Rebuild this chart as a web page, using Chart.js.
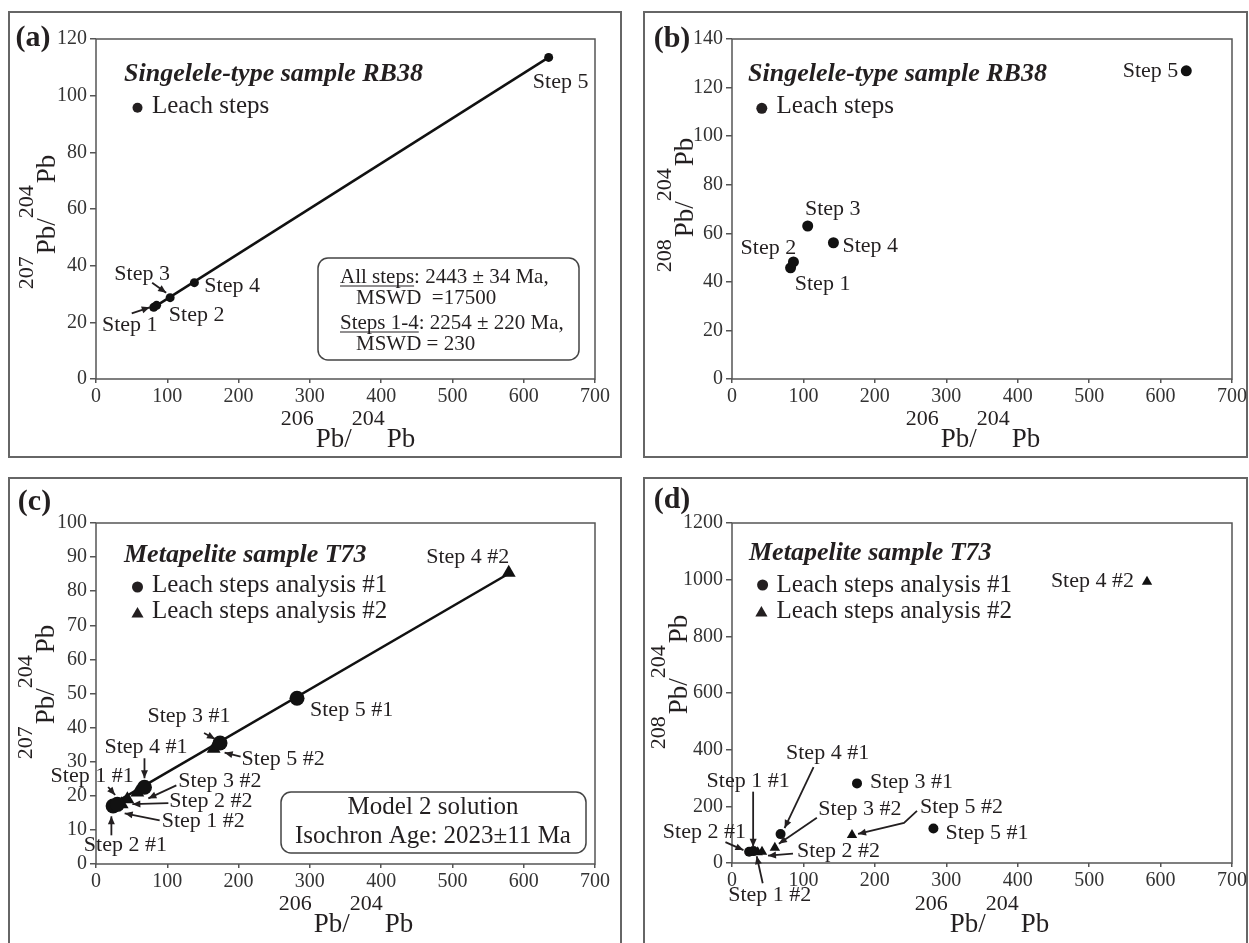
<!DOCTYPE html>
<html>
<head>
<meta charset="utf-8">
<script src="https://cdn.jsdelivr.net/npm/chart.js@4.4.0/dist/chart.umd.min.js"></script>
<style>
  html, body { margin: 0; padding: 0; background: #fff; overflow: hidden; }
  body { width: 1249px; height: 943px; position: relative; }
  .panel { position: absolute; border: 2px solid #666; box-sizing: border-box; }
  canvas { position: absolute; left: 0; top: 0; }
</style>
</head>
<body>
<div class="panel" style="left:8px;top:11px;width:614px;height:447px"></div>
<div class="panel" style="left:643px;top:11px;width:605px;height:447px"></div>
<div class="panel" style="left:8px;top:477px;width:614px;height:500px"></div>
<div class="panel" style="left:643px;top:477px;width:605px;height:500px"></div>
<canvas id="chartA" width="1249" height="943"></canvas>
<canvas id="chartB" width="1249" height="943"></canvas>
<canvas id="chartC" width="1249" height="943"></canvas>
<canvas id="chartD" width="1249" height="943"></canvas>
<script>
// ---- data ----
const xTicks = [0, 100, 200, 300, 400, 500, 600, 700];
const yTicksA = [0, 20, 40, 60, 80, 100, 120];
const yTicksB = [0, 20, 40, 60, 80, 100, 120, 140];
const yTicksC = [0, 10, 20, 30, 40, 50, 60, 70, 80, 90, 100];
const yTicksD = [0, 200, 400, 600, 800, 1000, 1200];

// (a) Singelele-type RB38, 207Pb/204Pb vs 206Pb/204Pb
const stepsA = ["Step 1", "Step 2", "Step 3", "Step 4", "Step 5"];
const pb206A = [81, 85, 104, 138, 635];
const pb207A = [25.3, 26.0, 28.7, 34.0, 113.5];
const isoXA = [76, 635];
const isoYA = [24.5, 113.5];

// (b) Singelele-type RB38, 208Pb/204Pb vs 206Pb/204Pb
const stepsB = ["Step 1", "Step 2", "Step 3", "Step 4", "Step 5"];
const pb206B = [82, 86, 106, 142, 636];
const pb208B = [45.8, 48.2, 63, 56.1, 126.9];

// (c) Metapelite T73, 207Pb/204Pb vs 206Pb/204Pb
const stepsC1 = ["Step 1 #1", "Step 2 #1", "Step 3 #1", "Step 4 #1", "Step 5 #1"];
const pb206C1 = [24, 30, 174, 68, 282];
const pb207C1 = [17, 17.5, 35.5, 22.5, 48.6];
const stepsC2 = ["Step 1 #2", "Step 2 #2", "Step 3 #2", "Step 4 #2", "Step 5 #2"];
const pb206C2 = [36, 44, 58, 579, 165];
const pb207C2 = [17.5, 19, 21, 85.4, 33.8];
const isoXC = [22, 581];
const isoYC = [17.4, 85.4];

// (d) Metapelite T73, 208Pb/204Pb vs 206Pb/204Pb
const stepsD1 = ["Step 1 #1", "Step 2 #1", "Step 3 #1", "Step 4 #1", "Step 5 #1"];
const pb206D1 = [24, 30, 175, 68, 282];
const pb208D1 = [40, 42, 281, 102, 122];
const stepsD2 = ["Step 1 #2", "Step 2 #2", "Step 3 #2", "Step 4 #2", "Step 5 #2"];
const pb206D2 = [36, 42, 60, 581, 168];
const pb208D2 = [38, 40, 54, 993, 99];

// ---- drawing helpers ----
const SERIF = '"Liberation Serif", "Times New Roman", serif';
const INK = '#231f20';
const YAXIS_W = 70;

function pts(xs, ys) {
  return xs.map((x, i) => ({ x: x, y: ys[i] }));
}

function arrow(ctx, p) {
  ctx.beginPath();
  ctx.moveTo(p[0][0], p[0][1]);
  for (let i = 1; i < p.length; i++) ctx.lineTo(p[i][0], p[i][1]);
  ctx.stroke();
  const [x1, y1] = p[p.length - 2];
  const [x2, y2] = p[p.length - 1];
  const a = Math.atan2(y2 - y1, x2 - x1);
  const L = 8, W = 3.5;
  ctx.beginPath();
  ctx.moveTo(x2, y2);
  ctx.lineTo(x2 - L * Math.cos(a) + W * Math.sin(a), y2 - L * Math.sin(a) - W * Math.cos(a));
  ctx.lineTo(x2 - L * Math.cos(a) - W * Math.sin(a), y2 - L * Math.sin(a) + W * Math.cos(a));
  ctx.closePath();
  ctx.fill();
}

function marker(ctx, kind, x, y, r) {
  ctx.beginPath();
  if (kind === 'triangle') {
    ctx.moveTo(x, y - r);
    ctx.lineTo(x + r * 0.866, y + r * 0.5);
    ctx.lineTo(x - r * 0.866, y + r * 0.5);
    ctx.closePath();
  } else {
    ctx.arc(x, y, r, 0, Math.PI * 2);
  }
  ctx.fill();
}

// isotope ratio title, e.g. 206Pb/204Pb with big raised mass numbers
function isoTitle(ctx, parts, cx, cy, vertical) {
  ctx.save();
  ctx.translate(cx, cy);
  if (vertical) ctx.rotate(-Math.PI / 2);
  ctx.textBaseline = 'middle';
  ctx.textAlign = 'left';
  let total = 0;
  parts.forEach(p => {
    ctx.font = p[1] ? '22px ' + SERIF : '27px ' + SERIF;
    total += ctx.measureText(p[0]).width + (p[1] ? 2 : 0);
  });
  let x = -total / 2;
  parts.forEach(p => {
    ctx.font = p[1] ? '22px ' + SERIF : '27px ' + SERIF;
    ctx.fillText(p[0], x, p[1] ? -21 : 0);
    x += ctx.measureText(p[0]).width + (p[1] ? 2 : 0);
  });
  ctx.restore();
}

function roundBox(ctx, x1, y1, x2, y2, r) {
  ctx.beginPath();
  ctx.moveTo(x1 + r, y1);
  ctx.arcTo(x2, y1, x2, y2, r);
  ctx.arcTo(x2, y2, x1, y2, r);
  ctx.arcTo(x1, y2, x1, y1, r);
  ctx.arcTo(x1, y1, x2, y1, r);
  ctx.closePath();
  ctx.stroke();
}

function stepLabels(ctx, chart, dsIndex, names, notes) {
  const meta = chart.getDatasetMeta(dsIndex);
  ctx.font = '22px ' + SERIF;
  ctx.textBaseline = 'middle';
  notes.forEach((n, i) => {
    const p = meta.data[i];
    ctx.textAlign = n.align || 'center';
    ctx.fillText(names[i], p.x + n.dx, p.y + n.dy);
    if (n.arrow) arrow(ctx, n.arrow.map(a => [p.x + a[0], p.y + a[1]]));
  });
}

function commonDecor(ctx, chart, d) {
  const a = chart.chartArea;
  ctx.save();
  ctx.strokeStyle = '#555';
  ctx.lineWidth = 1.5;
  ctx.strokeRect(a.left, a.top, a.right - a.left, a.bottom - a.top);
  ctx.fillStyle = INK;
  ctx.strokeStyle = INK;
  ctx.textBaseline = 'middle';
  ctx.font = 'bold 30px ' + SERIF;
  ctx.textAlign = 'center';
  ctx.fillText(d.tag, d.tagX, d.tagY);
  ctx.font = 'italic bold 26px ' + SERIF;
  ctx.textAlign = 'left';
  ctx.fillText(d.title, d.titleX, d.titleY);
  ctx.font = '25px ' + SERIF;
  d.legend.forEach(l => {
    marker(ctx, l.kind, l.mx, l.my, l.r);
    ctx.fillText(l.text, l.tx, l.ty);
  });
  isoTitle(ctx, [['206', true], ['Pb/', false], ['204', true], ['Pb', false]], d.xtX, d.xtY, false);
  isoTitle(ctx, [[d.ySup, true], ['Pb/', false], ['204', true], ['Pb', false]], d.ytX, d.ytY, true);
  ctx.restore();
}

function makeChart(id, area, yMax, yTicks, datasets, decor) {
  const tickFont = { family: SERIF, size: 20 };
  return new Chart(document.getElementById(id), {
    type: 'scatter',
    data: { datasets: datasets },
    options: {
      responsive: false,
      animation: false,
      devicePixelRatio: 1,
      layout: {
        padding: { left: area.left - YAXIS_W, top: area.top, right: 1249 - area.right, bottom: 943 - area.bottom - 30 }
      },
      plugins: { legend: { display: false }, tooltip: { enabled: false } },
      scales: {
        x: {
          type: 'linear', min: 0, max: 700,
          afterBuildTicks: s => { s.ticks = xTicks.map(v => ({ value: v })); },
          afterFit: s => { s.height = 30; },
          border: { display: false },
          grid: { drawOnChartArea: false, drawTicks: true, tickLength: 4, color: '#555', lineWidth: 1.5 },
          ticks: { font: tickFont, color: '#333', padding: 2, maxRotation: 0, autoSkip: false, callback: v => String(v) }
        },
        y: {
          type: 'linear', min: 0, max: yMax,
          afterBuildTicks: s => { s.ticks = yTicks.map(v => ({ value: v })); },
          afterFit: s => { s.width = YAXIS_W; },
          border: { display: false },
          grid: { drawOnChartArea: false, drawTicks: true, tickLength: 6, color: '#555', lineWidth: 1.5 },
          ticks: { font: tickFont, color: '#333', padding: 3, autoSkip: false, callback: v => String(v) }
        }
      }
    },
    plugins: [{ id: 'decor', afterDraw: chart => decor(chart.ctx, chart) }]
  });
}

function dots(data, style, r) {
  return { data: data, pointStyle: style, pointRadius: r, pointBackgroundColor: '#111', pointBorderWidth: 0, showLine: false };
}
function isochron(data) {
  return { data: data, showLine: true, borderColor: '#111', borderWidth: 2.5, pointRadius: 0 };
}

// ---- (a) ----
makeChart('chartA', { left: 96, top: 39, right: 595, bottom: 379 }, 120, yTicksA,
  [dots(pts(pb206A, pb207A), 'circle', 4.5), isochron(pts(isoXA, isoYA))],
  (ctx, chart) => {
    commonDecor(ctx, chart, {
      tag: '(a)', tagX: 33, tagY: 38,
      title: 'Singelele-type sample RB38', titleX: 124, titleY: 74,
      legend: [{ kind: 'circle', mx: 137.5, my: 107.7, r: 5, text: 'Leach steps', tx: 152, ty: 106.7 }],
      xtX: 348, xtY: 440, ySup: '207', ytX: 48, ytY: 222
    });
    ctx.save();
    ctx.fillStyle = INK; ctx.strokeStyle = INK; ctx.lineWidth = 1.8;
    stepLabels(ctx, chart, 0, stepsA, [
      { dx: -24, dy: 18, arrow: [[-22, 6], [-4, 0]] },
      { dx: 40, dy: 10 },
      { dx: -28, dy: -23, arrow: [[-18, -15], [-4, -5]] },
      { dx: 10, dy: 4, align: 'left' },
      { dx: 12, dy: 25 }
    ]);
    ctx.strokeStyle = '#444'; ctx.lineWidth = 1.5;
    roundBox(ctx, 318, 258, 579, 360, 10);
    ctx.font = '21px ' + SERIF; ctx.textAlign = 'left'; ctx.textBaseline = 'middle';
    ctx.strokeStyle = INK; ctx.lineWidth = 1;
    [['All steps', ': 2443 \u00b1 34 Ma,', 340, 277], ['Steps 1-4', ': 2254 \u00b1 220 Ma,', 340, 323]].forEach(r => {
      const w = ctx.measureText(r[0]).width;
      ctx.fillText(r[0], r[2], r[3]);
      ctx.fillText(r[1], r[2] + w, r[3]);
      ctx.beginPath(); ctx.moveTo(r[2], r[3] + 9); ctx.lineTo(r[2] + w, r[3] + 9); ctx.stroke();
    });
    ctx.fillText('MSWD  =17500', 356, 298);
    ctx.fillText('MSWD = 230', 356, 344);
    ctx.restore();
  });

// ---- (b) ----
makeChart('chartB', { left: 732, top: 39, right: 1232, bottom: 379 }, 140, yTicksB,
  [dots(pts(pb206B, pb208B), 'circle', 5.5)],
  (ctx, chart) => {
    commonDecor(ctx, chart, {
      tag: '(b)', tagX: 672, tagY: 39,
      title: 'Singelele-type sample RB38', titleX: 748, titleY: 74,
      legend: [{ kind: 'circle', mx: 761.8, my: 108.3, r: 5.5, text: 'Leach steps', tx: 776.6, ty: 106.7 }],
      xtX: 973, xtY: 440, ySup: '208', ytX: 686, ytY: 205
    });
    ctx.save();
    ctx.fillStyle = INK; ctx.strokeStyle = INK;
    stepLabels(ctx, chart, 0, stepsB, [
      { dx: 32, dy: 16 },
      { dx: -25, dy: -14 },
      { dx: 25, dy: -17 },
      { dx: 9, dy: 3, align: 'left' },
      { dx: -8, dy: 0, align: 'right' }
    ]);
    ctx.restore();
  });

// ---- (c) ----
makeChart('chartC', { left: 96, top: 523, right: 595, bottom: 864 }, 100, yTicksC,
  [dots(pts(pb206C1, pb207C1), 'circle', 7.5), dots(pts(pb206C2, pb207C2), 'triangle', 8), isochron(pts(isoXC, isoYC))],
  (ctx, chart) => {
    commonDecor(ctx, chart, {
      tag: '(c)', tagX: 34.5, tagY: 502,
      title: 'Metapelite sample T73', titleX: 124, titleY: 555,
      legend: [
        { kind: 'circle', mx: 137.5, my: 587, r: 5.5, text: 'Leach steps analysis #1', tx: 152, ty: 585 },
        { kind: 'triangle', mx: 137.5, my: 614, r: 7, text: 'Leach steps analysis #2', tx: 152, ty: 611 }
      ],
      xtX: 346, xtY: 925, ySup: '207', ytX: 47, ytY: 692
    });
    ctx.save();
    ctx.fillStyle = INK; ctx.strokeStyle = INK; ctx.lineWidth = 1.8;
    stepLabels(ctx, chart, 0, stepsC1, [
      { dx: -21, dy: -30, arrow: [[-5, -19], [2, -11]] },
      { dx: 8, dy: 41, arrow: [[-6, 31], [-6, 12]] },
      { dx: -31, dy: -27, arrow: [[-16, -10], [-5, -4]] },
      { dx: 1.5, dy: -40, arrow: [[0, -29], [0, -9]] },
      { dx: 13, dy: 12, align: 'left' }
    ]);
    stepLabels(ctx, chart, 1, stepsC2, [
      { dx: 40, dy: 17, align: 'left', arrow: [[38, 16], [3, 9]] },
      { dx: 42, dy: 2.5, align: 'left', arrow: [[41, 4], [5, 5]] },
      { dx: 41, dy: -11, align: 'left', arrow: [[39, -7], [11, 6]] },
      { dx: -41, dy: -16 },
      { dx: 28, dy: 10, align: 'left', arrow: [[27, 8], [11, 4]] }
    ]);
    ctx.strokeStyle = '#444'; ctx.lineWidth = 1.5;
    roundBox(ctx, 281, 792, 586, 853, 10);
    ctx.font = '25px ' + SERIF; ctx.textAlign = 'center'; ctx.textBaseline = 'middle';
    ctx.fillText('Model 2 solution', 433, 807);
    ctx.fillText('Isochron Age: 2023\u00b111 Ma', 433, 836);
    ctx.restore();
  });

// ---- (d) ----
makeChart('chartD', { left: 732, top: 523, right: 1232, bottom: 863 }, 1200, yTicksD,
  [dots(pts(pb206D1, pb208D1), 'circle', 5), dots(pts(pb206D2, pb208D2), 'triangle', 6)],
  (ctx, chart) => {
    commonDecor(ctx, chart, {
      tag: '(d)', tagX: 672, tagY: 500,
      title: 'Metapelite sample T73', titleX: 749, titleY: 553,
      legend: [
        { kind: 'circle', mx: 762.6, my: 585, r: 5.5, text: 'Leach steps analysis #1', tx: 776.6, ty: 585 },
        { kind: 'triangle', mx: 761.4, my: 613, r: 7, text: 'Leach steps analysis #2', tx: 776.6, ty: 611 }
      ],
      xtX: 982, xtY: 925, ySup: '208', ytX: 680, ytY: 682
    });
    ctx.save();
    ctx.fillStyle = INK; ctx.strokeStyle = INK; ctx.lineWidth = 1.8;
    stepLabels(ctx, chart, 0, stepsD1, [
      { dx: -1, dy: -70, arrow: [[4, -60], [4, -5]] },
      { dx: -49, dy: -19, arrow: [[-28, -9], [-10, -1]] },
      { dx: 13, dy: -1, align: 'left' },
      { dx: 47, dy: -81, arrow: [[33, -67], [4, -6]] },
      { dx: 12, dy: 5, align: 'left' }
    ]);
    stepLabels(ctx, chart, 1, stepsD2, [
      { dx: 12, dy: 43, arrow: [[5, 31], [-1, 4]] },
      { dx: 35, dy: 0, align: 'left', arrow: [[31, 2], [6, 4]] },
      { dx: 85, dy: -38, arrow: [[42, -30], [4, -4]] },
      { dx: -13, dy: 0, align: 'right' },
      { dx: 68, dy: -28, align: 'left', arrow: [[65, -24], [52, -12], [6, -1]] }
    ]);
    ctx.restore();
  });
</script>
</body>
</html>
